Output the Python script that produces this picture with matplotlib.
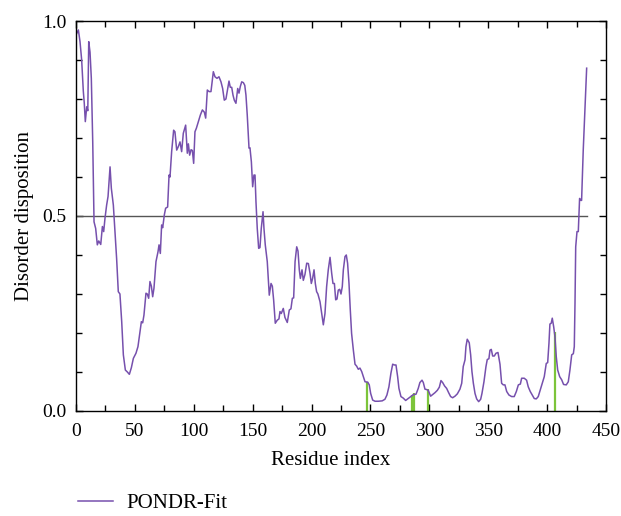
import matplotlib
matplotlib.use('Agg')
import matplotlib.pyplot as plt
from matplotlib.ticker import MultipleLocator

# PONDR-Fit disorder profile (residue index, disorder disposition)
residues = [
    0.6, 2, 3.4, 4.8, 6.2, 7, 7.9, 9.1, 10, 10.8,
    11.9, 13, 14.2, 15.3, 16.7, 18.1, 19.3, 21, 22.4, 23.5,
    24.6, 26, 27.2, 28.9, 30, 31.7, 33.1, 34.5, 35.9, 37.3,
    38.8, 40.2, 41.9, 43.6, 45.3, 47, 48.7, 50.9, 52.6, 54.3,
    55.5, 56.6, 57.7, 59.4, 60.5, 61.7, 62.8, 64, 65.1, 66.2,
    67.9, 69.6, 70.5, 71.6, 72.7, 73.6, 75, 76.1, 77.8, 79,
    79.8, 81.2, 82.9, 84, 85.5, 86.9, 88.3, 89.7, 91.1, 93.1,
    94.5, 95.4, 96.5, 97.7, 98.8, 99.9, 101, 102.2, 103.9, 105.6,
    107.3, 109, 110.1, 111.5, 113, 114.6, 116.6, 118, 119.7, 121.4,
    123.1, 124.5, 125.9, 127.3, 128.8, 129.9, 131, 132.2, 133.3, 134.4,
    135.8, 137.3, 138.4, 139.5, 140.7, 142.1, 143.3, 144.3, 145.4, 146.9,
    147.7, 148.9, 150, 151.1, 152, 152.8, 153.9, 155.1, 156.2, 157.3,
    158.8, 159.6, 160.7, 162.4, 164.1, 165.6, 166.7, 167.8, 169.2, 170.9,
    172.3, 173.2, 174.3, 176, 177.4, 179.4, 181.1, 182.5, 183.7, 184.8,
    186, 187.4, 188.5, 189.6, 190.5, 191.9, 193, 194.4, 195.9, 197.3,
    198.7, 199.8, 200.9, 202.1, 203.2, 204.3, 205.4, 207.2, 208.6, 210,
    211.4, 212.8, 214.2, 215.7, 217.1, 218.2, 219.4, 220.5, 221.6, 222.7,
    223.9, 225, 226.1, 227, 228.4, 229.5, 230.6, 231.8, 232.9, 234,
    235.5, 236.9, 238.3, 239.7, 241.1, 242.6, 244, 245.4, 247.7, 249,
    250.2, 251.9, 253.9, 256.7, 260, 262.3, 264, 265.7, 267.4, 268.9,
    270.3, 271.7, 273.1, 274.2, 275.9, 277.9, 279.9, 282.1, 284.4, 286.4,
    288.7, 290.6, 292, 293.8, 294.9, 296.3, 297.7, 299.1, 301.1, 302.8,
    304.8, 306.8, 308.5, 309.9, 311.3, 313, 314.7, 316.4, 318.1, 319.8,
    321.8, 323.8, 326, 327.5, 328.8, 330.3, 331.1, 332.2, 333.9, 335.1,
    336.2, 337.4, 338.8, 340.2, 341.9, 343.6, 344.7, 346.4, 348.1, 349.2,
    350.6, 351.5, 352.6, 353.8, 355.2, 356.6, 358.3, 360, 361.4, 362.8,
    364.2, 365.7, 367.6, 369.9, 372.1, 373.9, 375.6, 377.3, 378.4, 380.6,
    382.6, 384, 385.7, 387.4, 389.1, 390.8, 392.5, 394.2, 395.9, 397.6,
    399.3, 400.5, 401.6, 402.4, 403.5, 404.4, 405.6, 406.7, 407.8, 409,
    410.7, 412.4, 414, 416.3, 418, 419.4, 420.9, 422.3, 423.1, 423.7,
    424.3, 425.4, 426.5, 427.6, 428.5, 429.3, 430.7, 432.2, 433.6,
]
disorder = [
    0.968, 0.977, 0.947, 0.90, 0.82, 0.79, 0.742, 0.78, 0.77, 0.947,
    0.92, 0.853, 0.69, 0.485, 0.468, 0.426, 0.436, 0.427, 0.473, 0.46,
    0.494, 0.528, 0.55, 0.626, 0.571, 0.528, 0.46, 0.39, 0.306, 0.30,
    0.229, 0.144, 0.105, 0.10, 0.094, 0.111, 0.135, 0.148, 0.165, 0.203,
    0.229, 0.226, 0.246, 0.302, 0.30, 0.289, 0.332, 0.32, 0.293, 0.315,
    0.383, 0.408, 0.426, 0.404, 0.477, 0.47, 0.503, 0.52, 0.523, 0.605,
    0.60, 0.665, 0.72, 0.716, 0.669, 0.678, 0.69, 0.665, 0.712, 0.733,
    0.661, 0.685, 0.656, 0.67, 0.668, 0.635, 0.716, 0.725, 0.742, 0.759,
    0.772, 0.766, 0.751, 0.823, 0.819, 0.819, 0.87, 0.857, 0.853, 0.857,
    0.844, 0.827, 0.797, 0.80, 0.827, 0.846, 0.83, 0.83, 0.81, 0.797,
    0.789, 0.827, 0.815, 0.832, 0.844, 0.842, 0.835, 0.81, 0.759, 0.674,
    0.675, 0.639, 0.575, 0.605, 0.605, 0.537, 0.468, 0.417, 0.419, 0.468,
    0.511, 0.468, 0.426, 0.383, 0.297, 0.327, 0.32, 0.285, 0.225, 0.233,
    0.236, 0.255, 0.25, 0.263, 0.24, 0.227, 0.259, 0.262, 0.289, 0.29,
    0.383, 0.421, 0.41, 0.362, 0.34, 0.362, 0.335, 0.35, 0.379, 0.378,
    0.353, 0.327, 0.34, 0.362, 0.327, 0.306, 0.30, 0.28, 0.25, 0.221,
    0.25, 0.319, 0.362, 0.394, 0.353, 0.327, 0.327, 0.285, 0.287, 0.31,
    0.312, 0.30, 0.319, 0.362, 0.396, 0.40, 0.379, 0.327, 0.259, 0.199,
    0.156, 0.12, 0.115, 0.107, 0.11, 0.101, 0.088, 0.075, 0.074, 0.067,
    0.045, 0.028, 0.025, 0.025, 0.026, 0.03, 0.041, 0.062, 0.097, 0.12,
    0.118, 0.118, 0.088, 0.058, 0.037, 0.033, 0.027, 0.032, 0.037, 0.042,
    0.043, 0.058, 0.073, 0.079, 0.073, 0.056, 0.055, 0.053, 0.038, 0.042,
    0.047, 0.053, 0.061, 0.078, 0.073, 0.064, 0.058, 0.047, 0.037, 0.034,
    0.038, 0.044, 0.056, 0.071, 0.114, 0.131, 0.165, 0.184, 0.175, 0.144,
    0.101, 0.071, 0.045, 0.031, 0.024, 0.03, 0.045, 0.075, 0.114, 0.132,
    0.134, 0.156, 0.158, 0.141, 0.141, 0.148, 0.15, 0.12, 0.071, 0.067,
    0.067, 0.05, 0.041, 0.037, 0.037, 0.05, 0.067, 0.069, 0.084, 0.084,
    0.079, 0.062, 0.05, 0.041, 0.032, 0.031, 0.037, 0.054, 0.071, 0.088,
    0.122, 0.124, 0.174, 0.223, 0.225, 0.238, 0.216, 0.19, 0.139, 0.105,
    0.088, 0.08, 0.068, 0.067, 0.075, 0.105, 0.144, 0.147, 0.165, 0.276,
    0.421, 0.46, 0.46, 0.545, 0.54, 0.54, 0.669, 0.78, 0.879,
]

# marked residues (green bars)
site_res = [247, 285, 287, 299, 407]
site_height = [0.075, 0.041, 0.045, 0.056, 0.203]

threshold = 0.5
seq_len = 434

plt.rcParams['font.family'] = ['Liberation Serif', 'DejaVu Serif']

fig = plt.figure(figsize=(6.21, 5.16), dpi=100)
ax = fig.add_axes([0.1224, 0.2035, 0.8534, 0.7558])

ax.plot([0, seq_len], [threshold, threshold], color='#555555', lw=1.0)
ax.vlines(site_res, 0, site_height, color='#7cc43a', lw=1.6)
line, = ax.plot(residues, disorder, color='#7650ad', lw=1.1, label='PONDR-Fit')

ax.set_xlim(0, 450)
ax.set_ylim(0, 1.0)
ax.xaxis.set_major_locator(MultipleLocator(50))
ax.xaxis.set_minor_locator(MultipleLocator(25))
ax.yaxis.set_major_locator(MultipleLocator(0.5))
ax.yaxis.set_minor_locator(MultipleLocator(0.1))
ax.yaxis.set_major_formatter(plt.FormatStrFormatter('%.1f'))
ax.tick_params(which='both', direction='in', top=True, right=True,
               labelsize=14, width=1.0, colors='black')
ax.tick_params(which='major', length=5)
ax.tick_params(which='minor', length=4)
ax.tick_params(axis='x', which='major', pad=9)
ax.tick_params(axis='y', which='major', pad=7)
for s in ax.spines.values():
    s.set_linewidth(1.0)

ax.set_xlabel('Residue index', fontsize=15)
ax.xaxis.set_label_coords(0.481, -0.102)
ax.set_ylabel('Disorder disposition', fontsize=15, labelpad=6)

fig.legend(handles=[line], loc='center left', bbox_to_anchor=(0.1256, 0.024),
           frameon=False, fontsize=15, handlelength=1.7, handletextpad=0.6,
           borderpad=0, borderaxespad=0)

fig.savefig('out.png', dpi=100)
